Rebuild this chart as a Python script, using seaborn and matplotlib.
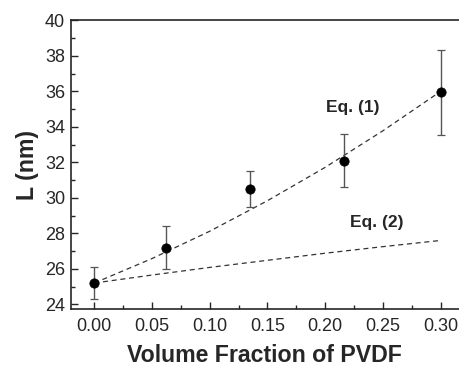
import numpy as np
import pandas as pd
import matplotlib
matplotlib.use('Agg')
import matplotlib.pyplot as plt
import seaborn as sns
from matplotlib.ticker import MultipleLocator

# measured points
frac = [0.0, 0.062, 0.135, 0.216, 0.300]
L_nm = [25.2, 27.2, 30.5, 32.1, 35.95]
L_err = [0.9, 1.2, 1.0, 1.5, 2.4]

# model curves
x_eq = [0.0, 0.05, 0.10, 0.15, 0.20, 0.25, 0.30]
y_eq1 = [25.2, 26.58, 28.12, 29.84, 31.72, 33.78, 36.0]
y_eq2 = [25.2, 25.65, 26.08, 26.48, 26.88, 27.25, 27.6]

df = pd.DataFrame({'frac': frac, 'L': L_nm, 'err': L_err})
curves = pd.DataFrame({'x': x_eq * 2, 'y': y_eq1 + y_eq2,
                       'eq': ['Eq. (1)'] * len(x_eq) + ['Eq. (2)'] * len(x_eq)})

sns.set_style('ticks')
plt.rcParams['font.family'] = ['Liberation Sans', 'DejaVu Sans']

fig = plt.figure(figsize=(4.59, 3.66), dpi=100)
ax = fig.add_axes([0.154, 0.155, 0.846, 0.789])

sns.lineplot(data=curves, x='x', y='y', units='eq', estimator=None,
             color='#333333', lw=0.9, linestyle=(0, (4, 3)), ax=ax)
ax.errorbar(df['frac'], df['L'], yerr=df['err'], fmt='none',
            ecolor='#555555', elinewidth=1.0, capsize=3, capthick=0.9)
sns.scatterplot(data=df, x='frac', y='L', color='black', s=45,
                edgecolor='black', zorder=5, ax=ax)

ax.text(0.224, 35.1, 'Eq. (1)', fontsize=12.5, fontweight='bold',
        ha='center', va='center')
ax.text(0.245, 28.6, 'Eq. (2)', fontsize=12.5, fontweight='bold',
        ha='center', va='center')

ax.set_xlim(-0.0205, 0.316)
ax.set_ylim(23.72, 40)
ax.xaxis.set_major_locator(MultipleLocator(0.05))
ax.xaxis.set_minor_locator(MultipleLocator(0.025))
ax.yaxis.set_major_locator(MultipleLocator(2))
ax.yaxis.set_minor_locator(MultipleLocator(1))
ax.set_xticks([0, 0.05, 0.10, 0.15, 0.20, 0.25, 0.30])
ax.set_xticklabels(['0.00', '0.05', '0.10', '0.15', '0.20', '0.25', '0.30'])
ax.tick_params(which='major', direction='in', length=5, width=1, labelsize=13, pad=6)
ax.tick_params(which='minor', direction='in', length=3, width=1)
ax.tick_params(axis='y', pad=4)

ax.spines['right'].set_visible(False)
for s in ['left', 'bottom', 'top']:
    ax.spines[s].set_linewidth(1.2)

ax.set_xlabel('Volume Fraction of PVDF', fontsize=16.7, fontweight='bold', labelpad=7)
ax.set_ylabel('L (nm)', fontsize=16.7, fontweight='bold', labelpad=4)

fig.savefig('out.png', dpi=100)
